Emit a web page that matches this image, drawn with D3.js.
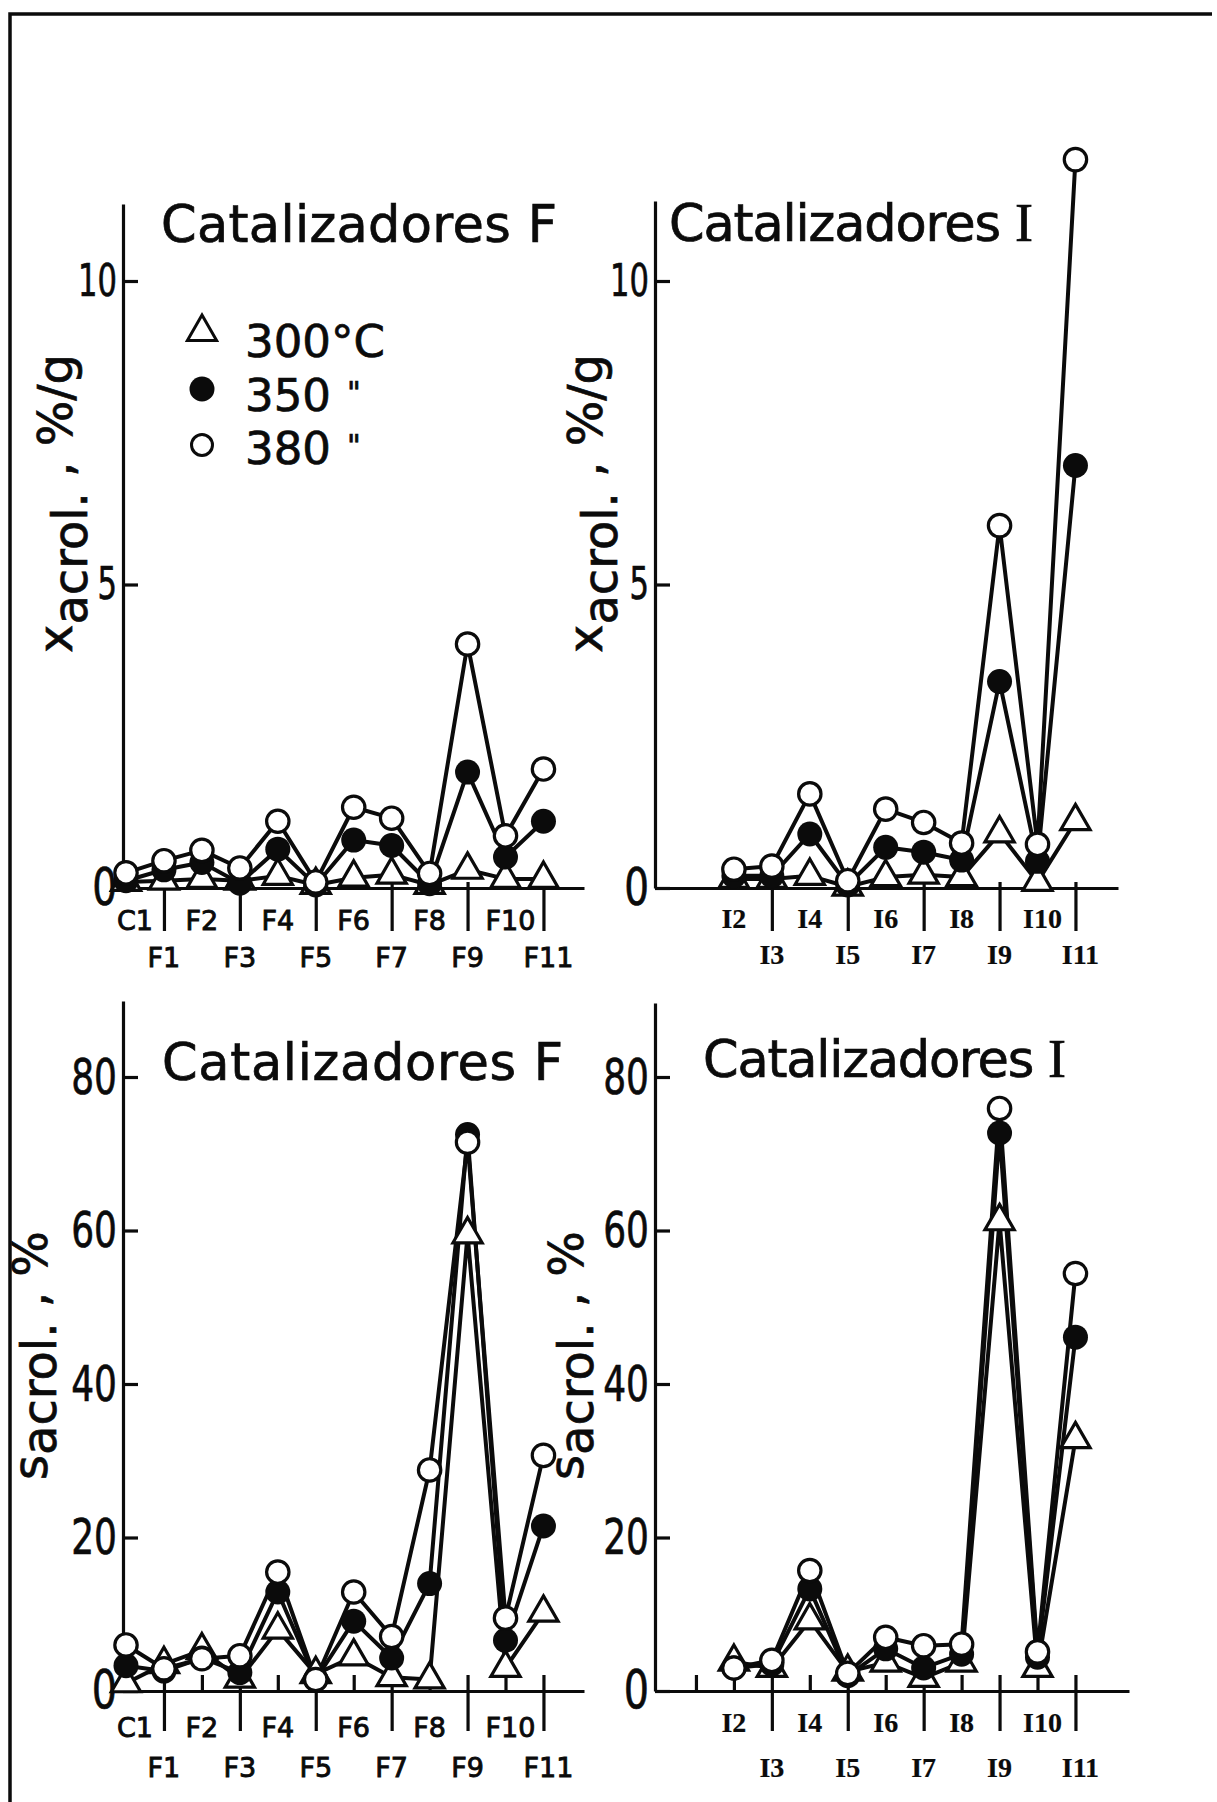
<!DOCTYPE html>
<html>
<head>
<meta charset="utf-8">
<script src="https://cdn.jsdelivr.net/npm/d3@7"></script>
<style>
  body { margin: 0; background: #fff; }
  svg { display: block; }
  svg text { stroke: #0b0b0b; stroke-width: 0.7px; }
</style>
</head>
<body>
<div id="chart"></div>
<script>
// categories
var catsF = ["C1", "F1", "F2", "F3", "F4", "F5", "F6", "F7", "F8", "F9", "F10", "F11"];
var catsI = ["I2", "I3", "I4", "I5", "I6", "I7", "I8", "I9", "I10", "I11"];
var legendNames = ["300°C", "350", "380"];

// x acrol. (%/g) - catalizadores F
var xF300 = [0.10, 0.12, 0.15, 0.12, 0.20, 0.05, 0.17, 0.22, 0.05, 0.30, 0.15, 0.15];
var xF350 = [0.12, 0.30, 0.42, 0.08, 0.64, 0.05, 0.79, 0.70, 0.07, 1.91, 0.51, 1.10];
var xF380 = [0.25, 0.45, 0.62, 0.33, 1.10, 0.10, 1.33, 1.15, 0.24, 4.02, 0.86, 1.96];

// x acrol. (%/g) - catalizadores I
var xI300 = [0.15, 0.15, 0.20, 0.02, 0.18, 0.22, 0.18, 0.90, 0.10, 1.10];
var xI350 = [0.20, 0.20, 0.89, 0.05, 0.67, 0.59, 0.46, 3.40, 0.44, 6.96];
var xI380 = [0.31, 0.36, 1.55, 0.12, 1.30, 1.08, 0.74, 5.97, 0.72, 12.0];

// s acrol. (%) - catalizadores F
var sF300 = [1.0, 3.5, 5.3, 1.6, 8.0, 2.2, 4.5, 1.8, 1.5, 59.5, 3.0, 10.2];
var sF350 = [3.3, 2.6, 4.3, 2.4, 12.9, 1.5, 9.1, 4.3, 14.0, 72.5, 6.6, 21.5];
var sF380 = [6.0, 2.9, 4.2, 4.6, 15.5, 1.5, 12.9, 7.1, 28.8, 71.5, 9.5, 30.7];

// s acrol. (%) - catalizadores I
var sI300 = [3.8, 3.0, 9.2, 2.5, 3.7, 1.7, 3.7, 61.2, 3.0, 32.8];
var sI350 = [3.0, 3.5, 13.3, 2.0, 5.5, 3.0, 4.8, 72.7, 4.4, 46.1];
var sI380 = [3.0, 4.0, 15.7, 2.3, 7.0, 5.9, 6.1, 75.9, 5.1, 54.4];

var ticksX = [0, 5, 10];
var ticksS = [0, 20, 40, 60, 80];

var W = 1217, H = 1802;
var ink = "#0b0b0b";
var sansFont = "'DejaVu Sans', 'Liberation Sans', sans-serif";
var serifFont = "'Liberation Serif', 'DejaVu Serif', serif";

// panel layout (pixels)
var panels = [
  { cats: catsF, series: [xF300, xF350, xF380], ticks: ticksX, topTick: 10,
    left: 123, right: 584, top: 204, base: 888, topTickPx: 281,
    title: "Catalizadores F", serifEnd: false, titleX: 161, titleY: 242, titleW: 396,
    sym: "x", tail: " , %/g", labelX: 72, labelY: 653, subDy: 15,
    rowY: [930, 967], bottom: false, legend: true },
  { cats: catsI, series: [xI300, xI350, xI380], ticks: ticksX, topTick: 10,
    left: 655, right: 1118, top: 201, base: 888, topTickPx: 281,
    title: "Catalizadores ", serifEnd: true, titleX: 669, titleY: 241, titleW: 364,
    sym: "x", tail: " , %/g", labelX: 602, labelY: 653, subDy: 15,
    rowY: [928, 964], bottom: false, legend: false },
  { cats: catsF, series: [sF300, sF350, sF380], ticks: ticksS, topTick: 80,
    left: 123, right: 584, top: 1001, base: 1691, topTickPx: 1077,
    title: "Catalizadores F", serifEnd: false, titleX: 162, titleY: 1080, titleW: 401,
    sym: "s", tail: " , %", labelX: 47, labelY: 1480, subDy: 9,
    rowY: [1737, 1777], bottom: true, legend: false },
  { cats: catsI, series: [sI300, sI350, sI380], ticks: ticksS, topTick: 80,
    left: 655, right: 1129, top: 1003, base: 1691, topTickPx: 1077,
    title: "Catalizadores ", serifEnd: true, titleX: 703, titleY: 1077, titleW: 363,
    sym: "s", tail: " ,  %", labelX: 583, labelY: 1480, subDy: 10,
    rowY: [1732, 1777], bottom: true, legend: false }
];

var slotStep = 37.95;

var svg = d3.select("#chart").append("svg")
  .attr("width", W)
  .attr("height", H);

svg.append("rect").attr("width", W).attr("height", H).attr("fill", "#fff");

// outer frame (top and left edges only)
svg.append("path")
  .attr("d", "M10," + H + " V14 H1212")
  .attr("fill", "none")
  .attr("stroke", ink)
  .attr("stroke-width", 3.5);

function slotOf(cat, i, cats) {
  // F panels run C1, F1..F11 ; I panels use the number of the catalyst
  return cats === catsF ? i : +cat.slice(1);
}

var triangle = d3.symbol().type(d3.symbolTriangle).size(370);

panels.forEach(function (p) {
  var g = svg.append("g");

  var yMax = p.topTick * (p.base - p.top) / (p.base - p.topTickPx);
  var y = d3.scaleLinear().domain([0, yMax]).range([p.base, p.top]);
  var x = d3.scaleLinear().domain([0, 11]).range([p.left + 3, p.left + 3 + 11 * slotStep]);
  var xa = d3.scaleLinear().domain([x.invert(p.left), x.invert(p.right)]).range([p.left, p.right]);

  var slots = p.cats.map(function (c, i) { return slotOf(c, i, p.cats); });
  var oddSlots = slots.filter(function (s) { return s % 2 === 1; });

  // x axis: line + long ticks under odd catalysts
  var xAxis = g.append("g")
    .attr("transform", "translate(0," + p.base + ")")
    .call(d3.axisBottom(xa).tickValues(oddSlots).tickSizeInner(p.bottom ? 40 : 43).tickSizeOuter(0).tickFormat(""));
  xAxis.selectAll("path, line").attr("stroke", ink).attr("stroke-width", 3.2);

  // short upward ticks
  var upSlots = p.bottom ? d3.range(1, 12) : oddSlots;
  var upAxis = g.append("g")
    .attr("transform", "translate(0," + p.base + ")")
    .call(d3.axisBottom(xa).tickValues(upSlots).tickSizeInner(p.bottom ? -16 : -6).tickSizeOuter(0).tickFormat(""));
  upAxis.select(".domain").remove();
  upAxis.selectAll("line").attr("stroke", ink).attr("stroke-width", 3.2);

  // y axis
  var yAxis = g.append("g")
    .attr("transform", "translate(" + p.left + ",0)")
    .call(d3.axisLeft(y).tickValues(p.ticks).tickSizeInner(-15).tickSizeOuter(0).tickPadding(6));
  yAxis.selectAll("path, line").attr("stroke", ink).attr("stroke-width", 3.2);
  yAxis.attr("font-family", sansFont);
  yAxis.selectAll(".tick text")
    .attr("fill", ink)
    .each(function (d) {
      var t = d3.select(this);
      var size, squeeze;
      if (d === 0) { size = p.bottom ? 53 : 52; squeeze = 0.75; }
      else if (p.bottom) { size = 50; squeeze = 0.72; }
      else { size = 45; squeeze = 0.68; }
      t.attr("font-size", size);
      var w = this.getComputedTextLength();
      t.attr("textLength", w * squeeze).attr("lengthAdjust", "spacingAndGlyphs");
    });

  // category labels in two rows
  g.append("g").selectAll("text")
    .data(p.cats)
    .enter()
    .append("text")
    .attr("x", function (c, i) { var s = slots[i]; return x(s) + (s === 0 ? 9 : 0) + (s >= 10 ? 5 : 0); })
    .attr("y", function (c, i) { return p.rowY[slots[i] % 2]; })
    .attr("text-anchor", "middle")
    .attr("font-family", p.cats === catsF ? sansFont : serifFont)
    .attr("font-weight", p.cats === catsF ? "normal" : "bold")
    .attr("font-size", p.cats === catsF ? 27 : 28)
    .attr("fill", ink)
    .style("stroke-width", p.cats === catsF ? "0.9px" : "0.2px")
    .text(function (c) { return c; });

  // title
  var title = g.append("text")
    .attr("x", p.titleX)
    .attr("y", p.titleY)
    .attr("font-family", sansFont)
    .attr("font-size", 51)
    .attr("fill", ink)
    .attr("textLength", p.titleW)
    .attr("lengthAdjust", "spacing");
  title.append("tspan").text(p.title);
  if (p.serifEnd) {
    title.append("tspan").attr("font-family", serifFont).attr("font-size", 54).text("I");
  }

  // rotated y label with subscript
  var lab = g.append("text")
    .attr("transform", "translate(" + p.labelX + "," + p.labelY + ") rotate(-90)")
    .attr("font-family", sansFont)
    .attr("font-size", 48)
    .attr("fill", ink);
  lab.append("tspan").text(p.sym);
  lab.append("tspan").attr("dy", p.subDy).text("acrol.");
  lab.append("tspan").attr("dy", -p.subDy).text(p.tail);

  // lines
  var line = d3.line()
    .x(function (d, i) { return x(slots[i]); })
    .y(function (d) { return y(d); });

  p.series.forEach(function (s) {
    g.append("path")
      .datum(s)
      .attr("d", line)
      .attr("fill", "none")
      .attr("stroke", ink)
      .attr("stroke-width", 4)
      .attr("stroke-linejoin", "round");
  });

  // markers: triangles (300), filled circles (350), open circles (380)
  g.append("g").selectAll("path")
    .data(p.series[0])
    .enter()
    .append("path")
    .attr("d", triangle)
    .attr("transform", function (d, i) { return "translate(" + x(slots[i]) + "," + y(d) + ")"; })
    .attr("fill", "#fff")
    .attr("stroke", ink)
    .attr("stroke-width", 3.2);

  g.append("g").selectAll("circle")
    .data(p.series[1])
    .enter()
    .append("circle")
    .attr("cx", function (d, i) { return x(slots[i]); })
    .attr("cy", function (d) { return y(d); })
    .attr("r", 12.5)
    .attr("fill", ink);

  g.append("g").selectAll("circle")
    .data(p.series[2])
    .enter()
    .append("circle")
    .attr("cx", function (d, i) { return x(slots[i]); })
    .attr("cy", function (d) { return y(d); })
    .attr("r", 11.2)
    .attr("fill", "#fff")
    .attr("stroke", ink)
    .attr("stroke-width", 3.2);

  // legend
  if (p.legend) {
    var lg = g.append("g");
    var rows = [332, 389, 445];
    var base = [357, 411, 464];
    lg.append("path").attr("d", triangle)
      .attr("transform", "translate(202," + rows[0] + ")")
      .attr("fill", "#fff").attr("stroke", ink).attr("stroke-width", 3);
    lg.append("circle").attr("cx", 202).attr("cy", rows[1]).attr("r", 12.5).attr("fill", ink);
    lg.append("circle").attr("cx", 202).attr("cy", rows[2]).attr("r", 10.5)
      .attr("fill", "#fff").attr("stroke", ink).attr("stroke-width", 3);
    legendNames.forEach(function (n, i) {
      lg.append("text")
        .attr("x", 245).attr("y", base[i])
        .attr("font-family", sansFont).attr("font-size", 45).attr("fill", ink)
        .text(n);
      if (i > 0) {
        lg.append("text")
          .attr("x", 347).attr("y", base[i] - 8)
          .attr("font-family", sansFont).attr("font-size", 30).attr("fill", ink)
          .text("\"");
      }
    });
  }
});
</script>
</body>
</html>
